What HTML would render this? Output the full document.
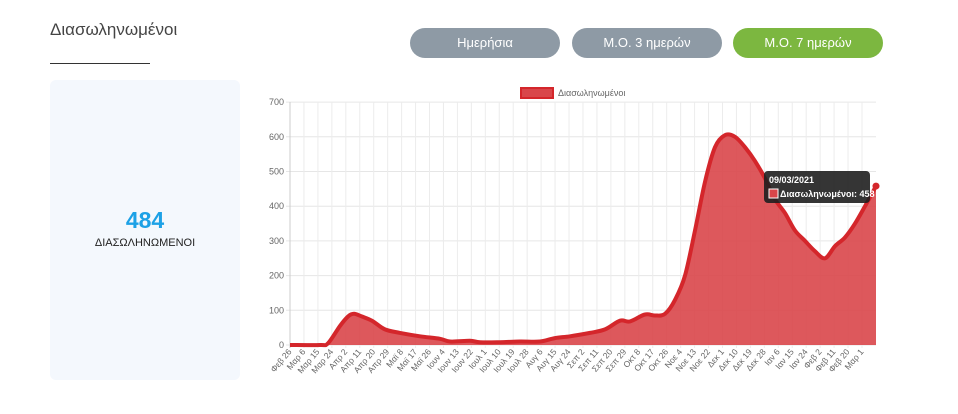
<!DOCTYPE html>
<html><head><meta charset="utf-8"><style>
body{margin:0;width:958px;height:414px;background:#fff;font-family:"Liberation Sans",sans-serif;position:relative;overflow:hidden}
.t{position:absolute;left:50px;top:20px;font-size:17px;color:#444}
.u{position:absolute;left:50px;top:63px;width:100px;height:1px;background:#333}
.b{position:absolute;top:28px;height:30px;width:150px;border-radius:15px;color:#fff;font-size:13px;text-align:center;line-height:30px;background:#8e9aa5}
.card{position:absolute;left:50px;top:80px;width:190px;height:300px;background:#f4f8fd;border-radius:6px}
</style></head><body>
<div class="t">Διασωληνωμένοι</div><div class="u"></div>
<div class="b" style="left:410px">Ημερήσια</div>
<div class="b" style="left:572px">Μ.Ο. 3 ημερών</div>
<div class="b" style="left:733px;background:#7cb740">Μ.Ο. 7 ημερών</div>
<div class="card"><div style="position:absolute;top:127px;width:100%;text-align:center;font-size:23px;font-weight:bold;color:#1da1e6">484</div>
<div style="position:absolute;top:157px;width:100%;text-align:center;font-size:11px;color:#222">ΔΙΑΣΩΛΗΝΩΜΕΝΟΙ</div></div>
<svg id="s" width="958" height="414" style="position:absolute;left:0;top:0" font-family="Liberation Sans, sans-serif"></svg>
<script>
var s=document.getElementById('s'),h='';
function Y(v){return 345-v*0.347}
for(var i=0;i<=7;i++){var y=Y(i*100);h+='<line x1="286" x2="876" y1="'+y+'" y2="'+y+'" stroke="#e6e6e6"/><text x="284" y="'+(y+3)+'" font-size="9" fill="#666" text-anchor="end">'+(i*100)+'</text>';}
var L="Φεβ 26,Μαρ 6,Μαρ 15,Μαρ 24,Απρ 2,Απρ 11,Απρ 20,Απρ 29,Μαϊ 8,Μαϊ 17,Μαϊ 26,Ιουν 4,Ιουν 13,Ιουν 22,Ιουλ 1,Ιουλ 10,Ιουλ 19,Ιουλ 28,Αυγ 6,Αυγ 15,Αυγ 24,Σεπ 2,Σεπ 11,Σεπ 20,Σεπ 29,Οκτ 8,Οκτ 17,Οκτ 26,Νοε 4,Νοε 13,Νοε 22,Δεκ 1,Δεκ 10,Δεκ 19,Δεκ 28,Ιαν 6,Ιαν 15,Ιαν 24,Φεβ 2,Φεβ 11,Φεβ 20,Μαρ 1".split(',');
var n=L.length;for(var i=0;i<n;i++){var x=290+i*(862-290)/(n-1);h+='<line x1="'+x+'" x2="'+x+'" y1="102" y2="348" stroke="#ececec"/><text transform="translate('+(x+2)+',352) rotate(-50)" font-size="8.5" fill="#666" text-anchor="end">'+L[i]+'</text>';}
h+='<line x1="290" x2="290" y1="102" y2="348" stroke="#ccc"/>';
var P=[[290,0],[320,0],[328,5],[340,55],[348,82],[354,90],[362,82],[372,70],[385,45],[400,35],[420,25],[440,18],[450,10],[470,12],[480,8],[500,8],[520,10],[540,10],[555,20],[570,25],[590,35],[605,45],[620,70],[630,68],[645,88],[655,85],[665,90],[675,130],[685,200],[695,330],[705,470],[715,570],[725,605],[735,600],[745,570],[755,530],[765,480],[775,420],[785,380],[795,330],[805,300],[815,270],[825,250],[835,285],[845,310],[855,350],[865,400],[876,458]];
var Q=P.map(function(p){return [p[0],Y(p[1])]});
var d='M'+Q[0][0]+','+Q[0][1];
for(var i=0;i<Q.length-1;i++){var p0=Q[Math.max(i-1,0)],p1=Q[i],p2=Q[i+1],p3=Q[Math.min(i+2,Q.length-1)];
d+=' C'+(p1[0]+(p2[0]-p0[0])/6).toFixed(1)+','+(p1[1]+(p2[1]-p0[1])/6).toFixed(1)+' '+(p2[0]-(p3[0]-p1[0])/6).toFixed(1)+','+(p2[1]-(p3[1]-p1[1])/6).toFixed(1)+' '+p2[0]+','+p2[1].toFixed(1);}
h+='<path d="'+d+' L876,345 L290,345Z" fill="#d9464a" opacity="0.9"/><path d="'+d+'" fill="none" stroke="#d4262b" stroke-width="4" stroke-linejoin="round"/>';
h+='<circle cx="876" cy="'+Y(458)+'" r="3.5" fill="#d4262b"/>';
h+='<rect x="521" y="88" width="32" height="10" fill="#d9464a" stroke="#d4262b" stroke-width="2"/><text x="558" y="96" font-size="9" fill="#666">Διασωληνωμένοι</text>';
h+='<rect x="764" y="171" width="106" height="32" rx="4" fill="#1f1f1f" opacity="0.9"/><text x="769" y="183" font-size="9" font-weight="bold" fill="#fff">09/03/2021</text><rect x="769" y="189" width="9" height="9" fill="#d9464a" stroke="#fff" stroke-width="1"/><text x="780" y="197" font-size="9" font-weight="bold" fill="#fff">Διασωληνωμένοι: 458</text>';
s.innerHTML=h;
</script>
</body></html>
